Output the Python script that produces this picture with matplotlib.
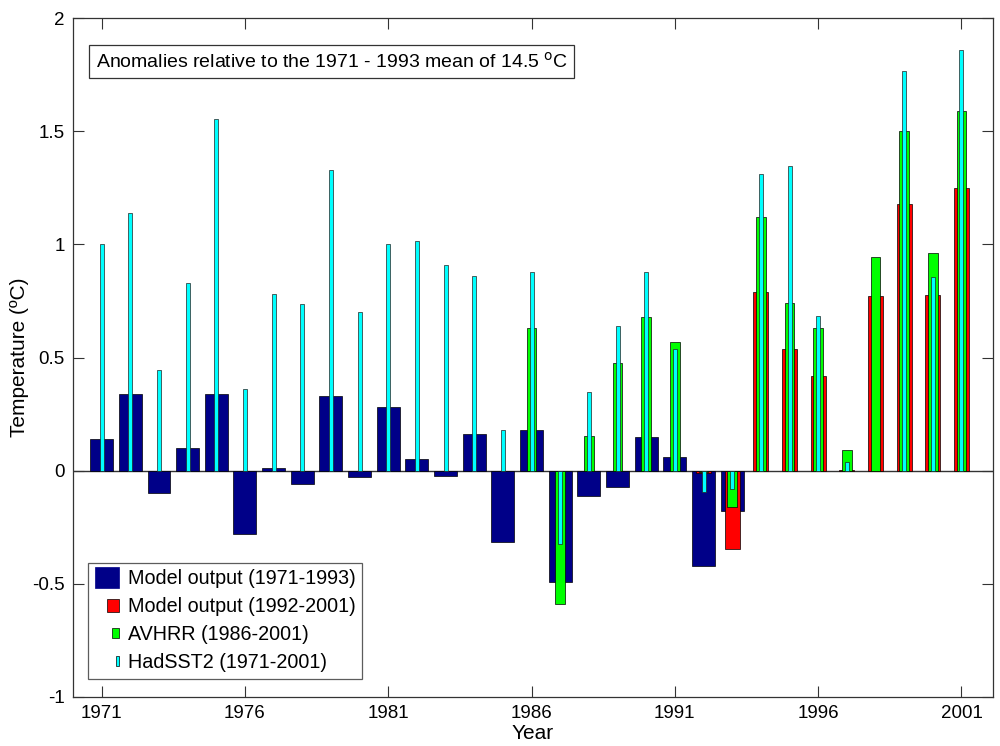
import matplotlib
matplotlib.use("Agg")
import matplotlib.pyplot as plt
import numpy as np
from matplotlib.patches import Patch, Rectangle
from matplotlib.legend_handler import HandlerPatch

plt.rcParams['font.family'] = ['Liberation Sans', 'DejaVu Sans']

# -------------------
# SST anomalies (deg C) relative to 1971-1993 mean
# -------------------
model_years = list(range(1971, 1994))
model_vals = [0.14, 0.34, -0.10, 0.10, 0.34, -0.28, 0.01, -0.06, 0.33, -0.03,
              0.28, 0.05, -0.025, 0.16, -0.315, 0.18, -0.49, -0.11, -0.07, 0.15,
              0.06, -0.42, -0.18]

model2_years = list(range(1992, 2002))
model2_vals = [-0.01, -0.345, 0.79, 0.54, 0.42, 0.005, 0.77, 1.18, 0.775, 1.25]

avhrr_years = list(range(1986, 2002))
avhrr_vals = [0.63, -0.59, 0.155, 0.475, 0.68, 0.57, -0.005, -0.16,
              1.12, 0.74, 0.63, 0.09, 0.945, 1.50, 0.96, 1.59]

hadsst_years = list(range(1971, 2002))
hadsst_vals = [1.00, 1.14, 0.445, 0.83, 1.555, 0.36, 0.78, 0.735, 1.33, 0.70,
               1.00, 1.015, 0.91, 0.86, 0.18, 0.88, -0.325, 0.35, 0.64, 0.88,
               0.54, -0.095, -0.08, 1.31, 1.345, 0.685, 0.04, np.nan, 1.765, 0.855,
               1.86]

xticks = [1971, 1976, 1981, 1986, 1991, 1996, 2001]
yticks = [-1, -0.5, 0, 0.5, 1, 1.5, 2]
ytick_labels = ['-1', '-0.5', '0', '0.5', '1', '1.5', '2']

c_model = '#000088'
c_model2 = '#ff0000'
c_avhrr = '#00ff00'
c_hadsst = '#00ffff'

fig = plt.figure(figsize=(10, 7.46), dpi=100)
ax = fig.add_axes([0.073, 0.0657, 0.92, 0.91])

ax.axhline(0, color='#333333', lw=1.0, zorder=1)
kw = dict(edgecolor='black', linewidth=0.5)
ax.bar(model_years, model_vals, width=0.8, color=c_model, zorder=2, **kw)
ax.bar(model2_years, model2_vals, width=0.52, color=c_model2, zorder=3, **kw)
ax.bar(avhrr_years, avhrr_vals, width=0.34, color=c_avhrr, zorder=4, **kw)
ax.bar(hadsst_years, hadsst_vals, width=0.14, color=c_hadsst, zorder=5,
       edgecolor='#222222', linewidth=0.5)

ax.set_xlim(1970, 2002.1)
ax.set_ylim(-1, 2)
ax.set_xticks(xticks)
ax.set_xticklabels([str(y) for y in xticks], fontsize=13.5)
ax.set_yticks(yticks)
ax.set_yticklabels(ytick_labels, fontsize=13.5)
ax.tick_params(direction='in', length=8, width=0.8, top=True, right=True,
               color='#333333', pad=6)
for s in ax.spines.values():
    s.set_color('#333333')
    s.set_linewidth(0.9)

ax.set_xlabel('Year', fontsize=15, labelpad=1)
ax.set_ylabel('Temperature (ºC)', fontsize=15, labelpad=2)

ax.text(0.0245, 0.936, 'Anomalies relative to the 1971 - 1993 mean of 14.5 $^{\\rm o}$C',
        transform=ax.transAxes, fontsize=14, va='center', ha='left',
        bbox=dict(boxstyle='square,pad=0.35', facecolor='white',
                  edgecolor='#333333', linewidth=0.9))


# legend swatches with different sizes, like the bar widths
def sized_patch(wf, hf):
    def make(legend, orig_handle, xdescent, ydescent, width, height, fontsize):
        w = width * wf
        h = height * hf
        return Rectangle((width - w - xdescent, -ydescent + (height - h) / 2), w, h)
    return make


handles = [Patch(facecolor=c_model, edgecolor=c_model, linewidth=0.5),
           Patch(facecolor=c_model2, edgecolor='black', linewidth=0.5),
           Patch(facecolor=c_avhrr, edgecolor='black', linewidth=0.5),
           Patch(facecolor=c_hadsst, edgecolor='black', linewidth=0.5)]
labels = ['Model output (1971-1993)', 'Model output (1992-2001)',
          'AVHRR (1986-2001)', 'HadSST2 (1971-2001)']
hmap = {handles[0]: HandlerPatch(patch_func=sized_patch(1.0, 1.5)),
        handles[1]: HandlerPatch(patch_func=sized_patch(0.48, 0.9)),
        handles[2]: HandlerPatch(patch_func=sized_patch(0.3, 0.75)),
        handles[3]: HandlerPatch(patch_func=sized_patch(0.12, 0.75))}
leg = ax.legend(handles, labels, handler_map=hmap, loc='lower left',
                bbox_to_anchor=(0.0165, 0.0265), fontsize=14.2, frameon=True,
                fancybox=False, handlelength=1.2, handletextpad=0.45,
                labelspacing=0.45, borderpad=0.35, borderaxespad=0)
leg.get_frame().set_edgecolor('#333333')
leg.get_frame().set_linewidth(0.9)

fig.savefig('out.png', dpi=100)
